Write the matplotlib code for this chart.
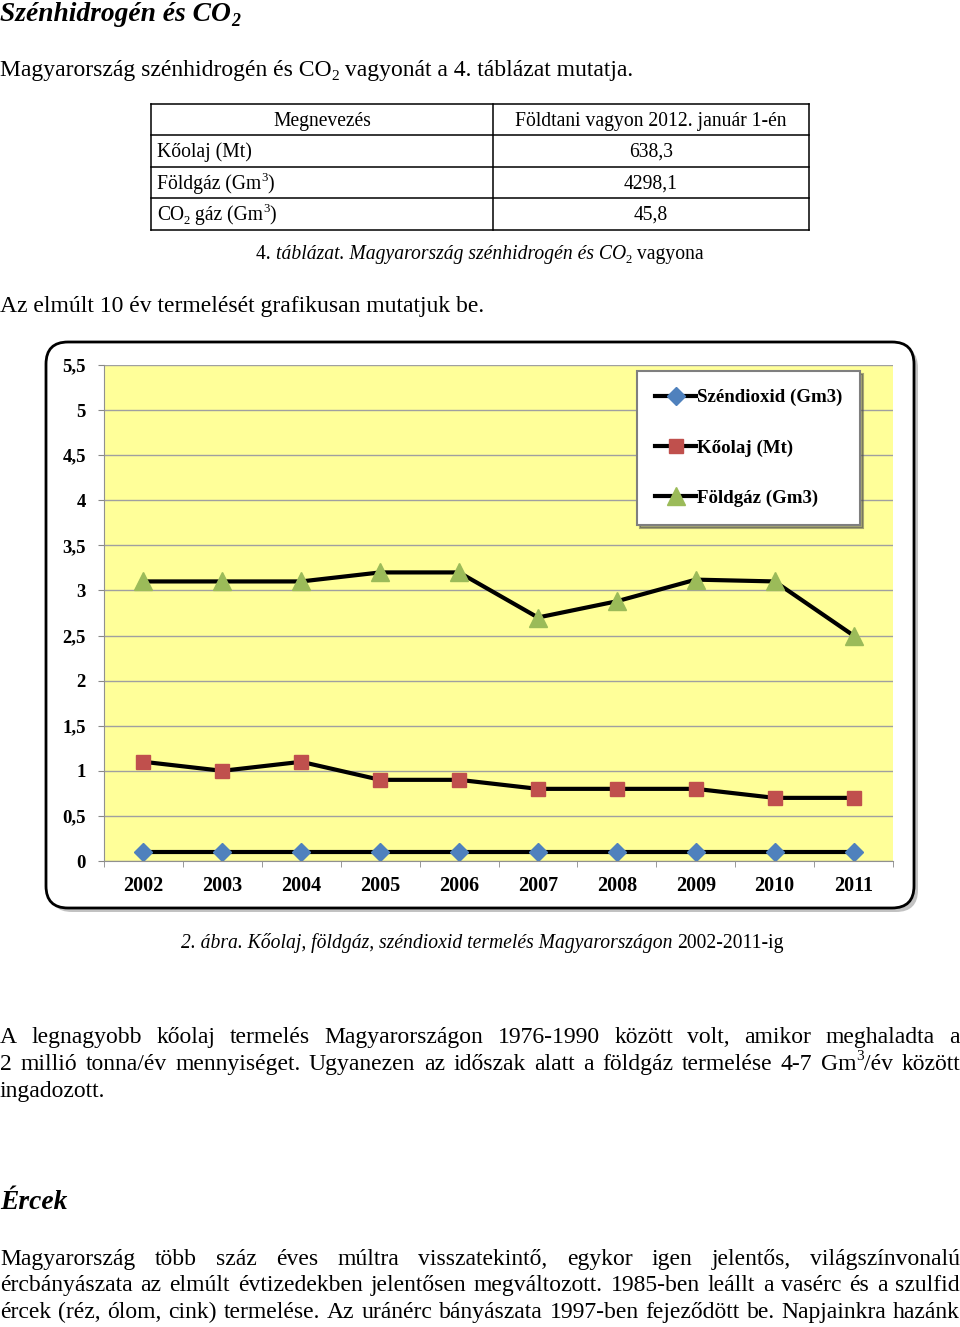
import re
import matplotlib
matplotlib.use("Agg")
import matplotlib.pyplot as plt
from matplotlib.patches import FancyBboxPatch

SERIF = "Liberation Serif"

# --- adatok ---
years = ["2002", "2003", "2004", "2005", "2006", "2007", "2008", "2009", "2010", "2011"]
szendioxid = [0.1, 0.1, 0.1, 0.1, 0.1, 0.1, 0.1, 0.1, 0.1, 0.1]
koolaj = [1.1, 1.0, 1.1, 0.9, 0.9, 0.8, 0.8, 0.8, 0.7, 0.7]
foldgaz = [3.1, 3.1, 3.1, 3.2, 3.2, 2.7, 2.88, 3.12, 3.1, 2.5]
y_ticks = [0, 0.5, 1, 1.5, 2, 2.5, 3, 3.5, 4, 4.5, 5, 5.5]
y_labels = ["0", "0,5", "1", "1,5", "2", "2,5", "3", "3,5", "4", "4,5", "5", "5,5"]
series_names = ["Széndioxid (Gm3)", "Kőolaj (Mt)", "Földgáz (Gm3)"]

table_head = ["Megnevezés", "Földtani vagyon 2012. január 1-én"]
table_names = ["Kőolaj (Mt)", "Földgáz (Gm^3)", "CO_2 gáz (Gm^3)"]
table_values = ["638,3", "4298,1", "45,8"]

para1 = ["A legnagyobb kőolaj termelés Magyarországon 1976-1990 között volt, amikor meghaladta a",
         "2 millió tonna/év mennyiséget. Ugyanezen az időszak alatt a földgáz termelése 4-7 Gm^3/év között",
         "ingadozott."]
para2 = ["Magyarország több száz éves múltra visszatekintő, egykor igen jelentős, világszínvonalú",
         "ércbányászata az elmúlt évtizedekben jelentősen megváltozott. 1985-ben leállt a vasérc és a szulfid",
         "ércek (réz, ólom, cink) termelése. Az uránérc bányászata 1997-ben fejeződött be. Napjainkra hazánk"]

fig = plt.figure(figsize=(9.6, 13.27), dpi=100)
bg = fig.add_axes([0, 0, 1, 1])
bg.set_xlim(0, 960)
bg.set_ylim(1327, 0)
bg.axis("off")
renderer = fig.canvas.get_renderer()


def parse(s, style="normal", weight="normal"):
    # ^3 felső index, _2 alsó index
    out = []
    for p in re.split(r"([\^_]\d)", s):
        if not p:
            continue
        if p[0] == "^":
            out.append((p[1], style, weight, "sup"))
        elif p[0] == "_":
            out.append((p[1], style, weight, "sub"))
        else:
            out.append((p, style, weight, ""))
    return out


def text_width(s, size, style, weight):
    t = bg.text(0, 0, s + "|", family=SERIF, size=size, style=style, weight=weight)
    r = bg.text(0, 0, "|", family=SERIF, size=size, style=style, weight=weight)
    w = t.get_window_extent(renderer).width - r.get_window_extent(renderer).width
    t.remove()
    r.remove()
    return w


def runs_width(runs, size):
    w = 0
    for txt, st, wt, pos in runs:
        w += text_width(txt, size * 0.65 if pos else size, st, wt)
    return w


def draw_runs(x, y, runs, size, color="black"):
    em = size * 100 / 72
    for txt, st, wt, pos in runs:
        fs = size * 0.65 if pos else size
        dy = {"sup": -0.42 * em, "sub": 0.18 * em, "": 0}[pos]
        bg.text(x, y + dy, txt, family=SERIF, size=fs, style=st, weight=wt,
                va="baseline", ha="left", color=color)
        x += text_width(txt, fs, st, wt)
    return x


def justify(line, y, size, x0=0, x1=960, full=True):
    words = [parse(w) for w in line.split(" ")]
    if not full:
        draw_runs(x0, y, parse(line), size)
        return
    widths = [runs_width(w, size) for w in words]
    gap = (x1 - x0 - sum(widths)) / (len(words) - 1)
    x = x0
    for w, wd in zip(words, widths):
        draw_runs(x, y, w, size)
        x += wd + gap


BODY = 17
TS = 14.1
HEAD = 19.8

# cím
draw_runs(0, 21, parse("Szénhidrogén és CO_2", "italic", "bold"), HEAD)
draw_runs(0, 76, parse("Magyarország szénhidrogén és CO_2 vagyonát a 4. táblázat mutatja."), BODY)

# táblázat
tx = [151, 493, 809]
ty = [104, 135, 167, 198, 230]
for yy in ty:
    bg.plot([tx[0], tx[2]], [yy, yy], color="black", lw=1.1)
for xx in tx:
    bg.plot([xx, xx], [ty[0], ty[-1]], color="black", lw=1.1)
for j, h in enumerate(table_head):
    r = parse(h)
    w = runs_width(r, TS)
    draw_runs((tx[j] + tx[j + 1]) / 2 - w / 2, ty[0] + 22, r, TS)
for i, (n, v) in enumerate(zip(table_names, table_values)):
    draw_runs(tx[0] + 6, ty[i + 1] + 22, parse(n), TS)
    r = parse(v)
    w = runs_width(r, TS)
    draw_runs((tx[1] + tx[2]) / 2 - w / 2, ty[i + 1] + 22, r, TS)

cap = parse("4. ") + parse("táblázat. Magyarország szénhidrogén és CO", "italic") + parse("_2 vagyona")
w = runs_width(cap, TS)
draw_runs(480 - w / 2, 259, cap, TS)

draw_runs(0, 312, parse("Az elmúlt 10 év termelését grafikusan mutatjuk be."), BODY)

# diagram kerete
bg.add_patch(FancyBboxPatch((50, 346), 868, 566, boxstyle="round,pad=0,rounding_size=22",
                            fc="#9a9a9a", ec="none", alpha=0.6))
bg.add_patch(FancyBboxPatch((46, 342), 868, 566, boxstyle="round,pad=0,rounding_size=22",
                            fc="white", ec="black", lw=2))

ax = fig.add_axes([104 / 960, 1 - 861 / 1327, 789 / 960, 496 / 1327])
ax.set_facecolor("#FFFF99")
xs = [i + 0.5 for i in range(len(years))]
line_kw = dict(color="black", lw=3)
h1, = ax.plot(xs, szendioxid, marker="D", ms=9.5, mfc="#4F81BD", mec="#4F81BD", **line_kw)
h2, = ax.plot(xs, koolaj, marker="s", ms=9.5, mfc="#C0504D", mec="#C0504D", **line_kw)
h3, = ax.plot(xs, foldgaz, marker="^", ms=13, mfc="#9BBB59", mec="#9BBB59", **line_kw)
ax.set_xlim(0, len(years))
ax.set_ylim(0, 5.5)
ax.set_yticks(y_ticks)
ax.set_yticklabels(y_labels, family=SERIF, weight="bold", size=13.5)
ax.set_xticks(xs)
ax.set_xticklabels(years, family=SERIF, weight="bold", size=14.5)
ax.set_xticks(range(len(years) + 1), minor=True)
ax.tick_params(axis="x", which="major", length=0, pad=11)
ax.tick_params(axis="x", which="minor", length=4, color="#888888")
ax.tick_params(axis="y", length=4, color="#888888", pad=9)
ax.grid(axis="y", color="#A0A0A0", lw=1)
ax.set_axisbelow(True)
for s in ["top", "right"]:
    ax.spines[s].set_visible(False)
for s in ["left", "bottom"]:
    ax.spines[s].set_color("#909090")

leg = ax.legend([h1, h2, h3], series_names, loc="upper left", bbox_to_anchor=(0.6755, 0.688, 0.283, 0.3),
                mode="expand", numpoints=1, prop=dict(family=SERIF, weight="bold", size=13.6),
                frameon=True, fancybox=False, shadow=True, borderpad=0.95, labelspacing=1.75,
                handlelength=2.2, handletextpad=0.05, borderaxespad=0)
leg.get_frame().set_edgecolor("#7f7f7f")
leg.get_frame().set_linewidth(1.5)

cap2 = parse("2. ábra. Kőolaj, földgáz, széndioxid termelés Magyarországon ", "italic") + parse("2002-2011-ig")
w = runs_width(cap2, TS)
draw_runs(482 - w / 2, 948, cap2, TS)

# szöveg
for k, (line, y) in enumerate(zip(para1, [1043, 1070, 1097])):
    justify(line, y, BODY, full=(k < 2))

draw_runs(0, 1209, parse("Ércek", "italic", "bold"), HEAD)
for line, y in zip(para2, [1265, 1291, 1318]):
    justify(line, y, BODY)

fig.savefig("out.png", dpi=100)
